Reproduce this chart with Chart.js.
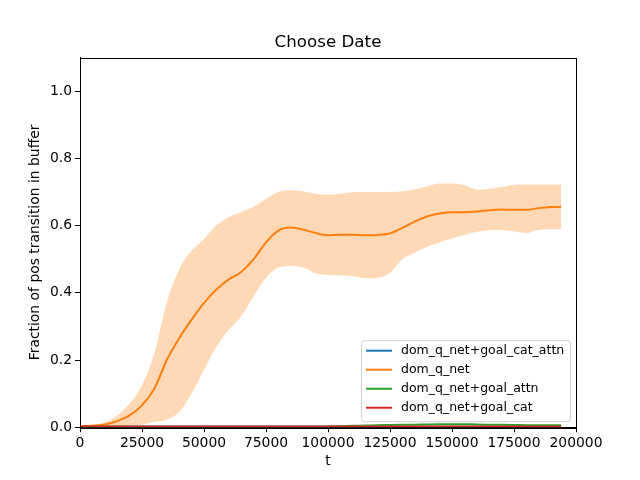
<!DOCTYPE html>
<html>
<head>
<meta charset="utf-8">
<script src="https://cdn.jsdelivr.net/npm/chart.js@4"></script>
<style>
  html, body { margin: 0; padding: 0; background: #fff; }
  #chart { display: block; }
</style>
</head>
<body>
<canvas id="chart" width="640" height="480"></canvas>
<script>
// --------------------------------------
// 1. Data
// --------------------------------------
const chartTitle = "Choose Date";
const seriesNames = ["dom_q_net+goal_cat_attn", "dom_q_net", "dom_q_net+goal_attn", "dom_q_net+goal_cat"];
const seriesColors = ["#1f77b4", "#ff7f0e", "#2ca02c", "#d62728"];

const tValues = [0, 5000, 10000, 15000, 20000, 25000, 30000, 35000, 40000, 45000,
  50000, 55000, 60000, 65000, 70000, 75000, 80000, 85000, 90000, 95000,
  100000, 105000, 110000, 115000, 120000, 125000, 130000, 135000, 140000, 145000,
  150000, 155000, 160000, 165000, 170000, 175000, 180000, 185000, 190000, 194000];

const catAttnMean = [0.001, 0.001, 0.001, 0.001, 0.001, 0.001, 0.001, 0.001, 0.001, 0.001,
  0.001, 0.001, 0.001, 0.001, 0.001, 0.001, 0.001, 0.001, 0.001, 0.001,
  0.001, 0.001, 0.001, 0.001, 0.001, 0.001, 0.001, 0.001, 0.001, 0.001,
  0.001, 0.001, 0.001, 0.001, 0.001, 0.001, 0.001, 0.001, 0.001, 0.001];

const qNetMean = [0.003, 0.004, 0.008, 0.018, 0.035, 0.065, 0.115, 0.2, 0.265, 0.32,
  0.37, 0.41, 0.44, 0.462, 0.5, 0.55, 0.585, 0.594, 0.588, 0.578,
  0.571, 0.573, 0.573, 0.571, 0.572, 0.577, 0.593, 0.612, 0.627, 0.636,
  0.64, 0.64, 0.642, 0.646, 0.648, 0.647, 0.647, 0.652, 0.655, 0.656];
const qNetUpper = [0.006, 0.008, 0.014, 0.035, 0.07, 0.125, 0.22, 0.37, 0.47, 0.525,
  0.56, 0.6, 0.625, 0.64, 0.656, 0.68, 0.7, 0.705, 0.702, 0.695,
  0.692, 0.695, 0.699, 0.7, 0.7, 0.7, 0.702, 0.708, 0.716, 0.725,
  0.725, 0.72, 0.707, 0.71, 0.715, 0.721, 0.722, 0.722, 0.722, 0.722];
const qNetLower = [0.0, 0.0, 0.001, 0.002, 0.004, 0.008, 0.016, 0.022, 0.045, 0.1,
  0.17, 0.24, 0.29, 0.33, 0.39, 0.445, 0.475, 0.48, 0.475, 0.458,
  0.453, 0.452, 0.45, 0.443, 0.445, 0.46, 0.5, 0.52, 0.537, 0.55,
  0.562, 0.572, 0.582, 0.586, 0.587, 0.583, 0.578, 0.588, 0.589, 0.589];

const goalAttnMean = [0.001, 0.001, 0.001, 0.001, 0.001, 0.001, 0.001, 0.001, 0.001, 0.001,
  0.001, 0.001, 0.001, 0.001, 0.001, 0.001, 0.001, 0.001, 0.001, 0.001,
  0.002, 0.003, 0.004, 0.005, 0.006, 0.0065, 0.007, 0.0075, 0.008, 0.0085,
  0.009, 0.009, 0.008, 0.0075, 0.007, 0.0065, 0.006, 0.006, 0.006, 0.006];

const goalCatMean = [0.002, 0.002, 0.002, 0.002, 0.002, 0.002, 0.002, 0.002, 0.002, 0.002,
  0.002, 0.002, 0.002, 0.002, 0.002, 0.002, 0.002, 0.002, 0.002, 0.002,
  0.002, 0.002, 0.002, 0.002, 0.002, 0.002, 0.002, 0.002, 0.002, 0.002,
  0.002, 0.002, 0.002, 0.002, 0.002, 0.002, 0.002, 0.002, 0.002, 0.002];

const xTicks = [0, 25000, 50000, 75000, 100000, 125000, 150000, 175000, 200000];
const yTicks = [0.0, 0.2, 0.4, 0.6, 0.8, 1.0];

// --------------------------------------
// 2. Helpers
// --------------------------------------
const FONT = "'DejaVu Sans', sans-serif";

function toPoints(values) {
  return values.map((v, i) => ({ x: tValues[i], y: v }));
}

// order: higher is drawn first (further back), so the last series ends up on top
function lineDataset(label, values, color, order) {
  return {
    label: label, data: toPoints(values), borderColor: color, backgroundColor: color, order: order,
    borderWidth: 2, pointRadius: 0, fill: false, tension: 0.4, cubicInterpolationMode: 'monotone'
  };
}

function bandDataset(values, fillTarget) {
  return {
    label: '', isBand: true, data: toPoints(values), borderWidth: 0, borderColor: 'rgba(0,0,0,0)',
    backgroundColor: 'rgba(255, 127, 14, 0.3)', pointRadius: 0, fill: fillTarget, order: 10,
    tension: 0.4, cubicInterpolationMode: 'monotone'
  };
}

// frame on all four sides, plus the title centred over the axes
const framePlugin = {
  id: 'frame',
  afterDraw(chart) {
    const { ctx, chartArea: a } = chart;
    ctx.save();
    ctx.strokeStyle = '#000';
    ctx.lineWidth = 1;
    ctx.strokeRect(Math.round(a.left) + 0.5, Math.round(a.top) + 0.5,
      Math.round(a.right - a.left), Math.round(a.bottom - a.top));
    ctx.fillStyle = '#000';
    ctx.font = '16.7px ' + FONT;
    ctx.textAlign = 'center';
    ctx.textBaseline = 'middle';
    ctx.fillText(chartTitle, (a.left + a.right) / 2, a.top - 14.5);
    ctx.restore();
  }
};

// legend box in the lower right corner of the axes
const boxLegendPlugin = {
  id: 'boxLegend',
  afterDraw(chart) {
    const ctx = chart.ctx;
    const a = chart.chartArea;
    const items = chart.data.datasets.filter(ds => !ds.isBand);
    const rowH = 19, boxW = 209, boxH = 81;
    const x0 = a.right - 6 - boxW, y0 = a.bottom - 6 - boxH;
    ctx.save();
    ctx.beginPath();
    ctx.roundRect(x0 + 0.5, y0 + 0.5, boxW, boxH, 3);
    ctx.fillStyle = 'rgba(255,255,255,0.8)';
    ctx.fill();
    ctx.strokeStyle = 'rgba(204,204,204,0.9)';
    ctx.lineWidth = 1;
    ctx.stroke();
    ctx.font = '12.5px ' + FONT;
    ctx.textBaseline = 'middle';
    items.forEach((ds, i) => {
      const y = y0 + 10.5 + i * rowH;
      ctx.strokeStyle = ds.borderColor;
      ctx.lineWidth = 2;
      ctx.beginPath();
      ctx.moveTo(x0 + 5, y);
      ctx.lineTo(x0 + 31, y);
      ctx.stroke();
      ctx.fillStyle = '#000';
      ctx.fillText(ds.label, x0 + 40, y);
    });
    ctx.restore();
  }
};

// --------------------------------------
// 3. Chart
// --------------------------------------
const datasets = [
  lineDataset(seriesNames[0], catAttnMean, seriesColors[0], 4),
  lineDataset(seriesNames[1], qNetMean, seriesColors[1], 3),
  bandDataset(qNetUpper, false),
  bandDataset(qNetLower, '-1'),
  lineDataset(seriesNames[2], goalAttnMean, seriesColors[2], 2),
  lineDataset(seriesNames[3], goalCatMean, seriesColors[3], 1)
];

new Chart(document.getElementById('chart').getContext('2d'), {
  type: 'line',
  data: { datasets: datasets },
  options: {
    responsive: false,
    animation: false,
    devicePixelRatio: 1,
    layout: { padding: { top: 57.6, left: 0, right: 64, bottom: 0 } },
    plugins: {
      legend: { display: false },
      tooltip: { enabled: false },
      title: { display: false }
    },
    scales: {
      x: {
        type: 'linear', min: 0, max: 200000,
        afterBuildTicks: scale => { scale.ticks = xTicks.map(v => ({ value: v })); },
        afterFit: scale => { scale.height = 52.8; },
        ticks: { color: '#000', font: { family: FONT, size: 13.9 }, padding: 3, maxRotation: 0,
          callback: v => String(v) },
        grid: { drawOnChartArea: false, drawTicks: true, tickLength: 5, color: '#000' },
        border: { color: '#000' },
        title: { display: true, text: 't', color: '#000', font: { family: FONT, size: 13.9 },
          padding: { top: 0, bottom: 10 } }
      },
      y: {
        min: 0, max: 1.1,
        afterBuildTicks: scale => { scale.ticks = yTicks.map(v => ({ value: v })); },
        afterFit: scale => { scale.width = 80; },
        ticks: { color: '#000', font: { family: FONT, size: 13.9 }, padding: 3,
          callback: v => Number(v).toFixed(1) },
        grid: { drawOnChartArea: false, drawTicks: true, tickLength: 5, color: '#000' },
        border: { color: '#000' },
        title: { display: true, text: 'Fraction of pos transition in buffer', color: '#000',
          font: { family: FONT, size: 13.9 }, padding: { top: 27, bottom: 0 } }
      }
    }
  },
  plugins: [framePlugin, boxLegendPlugin]
});
</script>
</body>
</html>
